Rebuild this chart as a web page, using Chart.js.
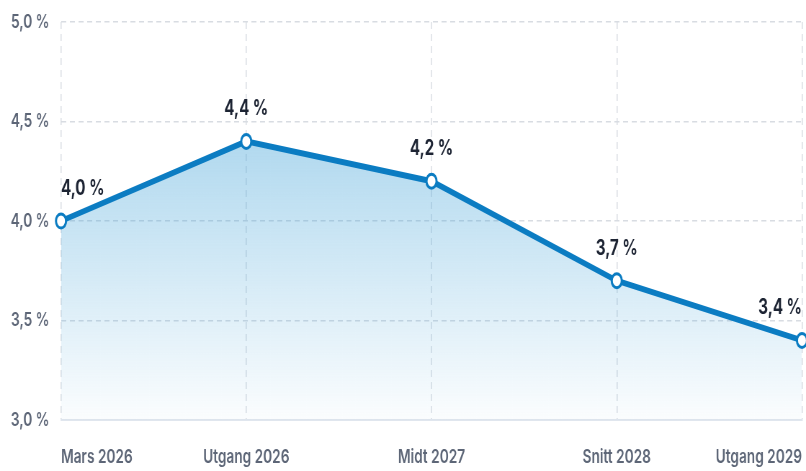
<!DOCTYPE html>
<html>
<head>
<meta charset="utf-8">
<script src="https://cdn.jsdelivr.net/npm/chart.js@4/dist/chart.umd.min.js"></script>
<style>
html,body{margin:0;padding:0;background:#fff;overflow:hidden;}
#wrap{position:absolute;left:0;top:0;height:471px;transform-origin:0 0;}
</style>
</head>
<body>
<div id="wrap"><canvas id="c"></canvas></div>
<script>
const categories = ['Mars 2026', 'Utgang 2026', 'Midt 2027', 'Snitt 2028', 'Utgang 2029'];
const values = [4.0, 4.4, 4.2, 3.7, 3.4];
const yTicks = [3.0, 3.5, 4.0, 4.5, 5.0];

const S = 0.72;
const W = Math.round(806 / S);
const wrap = document.getElementById('wrap');
wrap.style.width = W + 'px';
wrap.style.transform = 'scaleX(' + (806 / W) + ')';
const cv = document.getElementById('c');
cv.width = W; cv.height = 471;
cv.style.width = W + 'px'; cv.style.height = '471px';
const SX = 806 / W;

const fmt = v => v.toFixed(1).replace('.', ',') + ' %';
const FONT = "Inter, 'Open Sans', Roboto, sans-serif";
const LINE = '#0b7cc2';

const labelPlugin = {
  id: 'valueLabels',
  afterDatasetsDraw(chart) {
    const ctx = chart.ctx;
    const meta = chart.getDatasetMeta(0);
    ctx.save();
    ctx.font = '700 21px ' + FONT;
    ctx.fillStyle = '#1d2433';
    ctx.textBaseline = 'alphabetic';
    const n = meta.data.length;
    meta.data.forEach((pt, i) => {
      ctx.textAlign = i === 0 ? 'left' : (i === n - 1 ? 'right' : 'center');
      ctx.fillText(fmt(values[i]), pt.x, pt.y - 26);
    });
    ctx.restore();
  }
};

new Chart(cv, {
  type: 'line',
  data: {
    labels: categories,
    datasets: [{
      data: values,
      borderColor: LINE,
      borderWidth: 6,
      tension: 0,
      fill: 'start',
      backgroundColor(context) {
        const {chart} = context;
        const {ctx, chartArea, scales} = chart;
        if (!chartArea) return 'rgba(11,124,194,0.2)';
        const top = scales.y.getPixelForValue(4.4);
        const g = ctx.createLinearGradient(0, top, 0, chartArea.bottom);
        g.addColorStop(0, 'rgba(60,160,215,0.40)');
        g.addColorStop(1, 'rgba(60,160,215,0.02)');
        return g;
      },
      pointRadius: 7,
      pointHoverRadius: 7,
      pointBackgroundColor: '#ffffff',
      pointBorderColor: LINE,
      pointBorderWidth: 3,
      clip: false
    }]
  },
  options: {
    responsive: false,
    devicePixelRatio: 1,
    animation: false,
    events: [],
    layout: { autoPadding: false, padding: { top: 22, right: W - 802 / SX, left: 0, bottom: 0 } },
    plugins: { legend: { display: false }, tooltip: { enabled: false } },
    scales: {
      x: {
        offset: false,
        grid: { color: '#d8dce2', lineWidth: 1.5, drawTicks: false },
        border: { color: '#e0e6ee', width: 2, dash: [7, 5] },
        ticks: {
          align: 'inner',
          padding: 26,
          color: '#5d6677',
          font: { family: FONT, size: 19, weight: '600' },
          maxRotation: 0,
          autoSkip: false
        },
        afterFit(scale) { scale.height = 51; scale.paddingLeft = 0; scale.paddingRight = 0; }
      },
      y: {
        min: 3.0,
        max: 5.0,
        afterBuildTicks(scale) { scale.ticks = yTicks.map(v => ({ value: v })); },
        grid: { color: '#d8dce2', lineWidth: 1.5, drawTicks: false },
        border: { display: false, dash: [7, 5] },
        ticks: {
          padding: 16,
          color: '#5d6677',
          font: { family: FONT, size: 19, weight: '600' },
          callback: v => fmt(v)
        },
        afterFit(scale) { scale.width = 61 / SX; scale.paddingTop = 0; scale.paddingBottom = 0; }
      }
    }
  },
  plugins: [labelPlugin]
});
</script>
</body>
</html>
